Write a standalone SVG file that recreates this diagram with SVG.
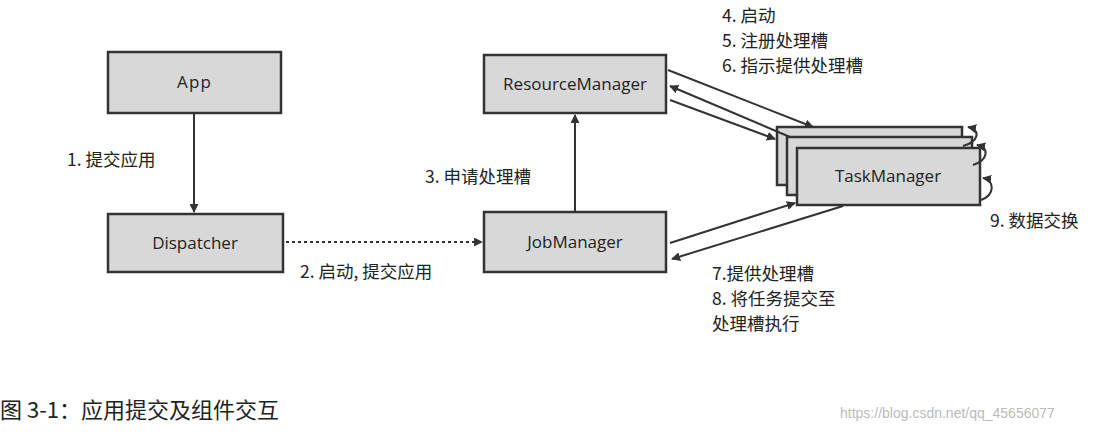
<svg xmlns="http://www.w3.org/2000/svg" width="1108" height="435" viewBox="0 0 1108 435">
<style>
.box{fill:#d8d8d8;stroke:#333;stroke-width:2.5}
.n{font-family:"Open Sans","DejaVu Sans",sans-serif;font-size:17px;fill:#222;text-anchor:middle}
.l{font-family:"Noto Sans CJK SC",sans-serif;font-size:17.5px;fill:#222}
.c{stroke:#333;stroke-width:2;fill:none}
</style>
<defs><marker id="a" viewBox="0 0 10 10" refX="9" refY="5" markerWidth="9" markerHeight="9" orient="auto-start-reverse" markerUnits="userSpaceOnUse"><path d="M0,0 L10,5 L0,10 z" fill="#333"/></marker></defs>
<rect width="1108" height="435" fill="#fff"/>
<g id="app"><rect class="box" x="108" y="52" width="173" height="61"/><text class="n" x="194" y="88" textLength="34">App</text></g>
<g id="dispatcher"><rect class="box" x="108" y="214" width="175" height="58"/><text class="n" x="195" y="249">Dispatcher</text></g>
<g id="resourcemanager"><rect class="box" x="484" y="55" width="182" height="58"/><text class="n" x="575" y="90">ResourceManager</text></g>
<g id="jobmanager"><rect class="box" x="484" y="212" width="182" height="60"/><text class="n" x="575" y="248">JobManager</text></g>
<g id="taskmanager">
<rect class="box" x="777" y="127" width="185" height="58"/>
<rect class="box" x="787" y="137" width="185" height="58"/>
<rect class="box" x="797" y="148" width="183" height="57"/>
<text class="n" x="888" y="182">TaskManager</text>
</g>
<g id="connectors">
<line class="c" x1="194" y1="114" x2="194" y2="212" marker-end="url(#a)"/>
<line class="c" x1="286" y1="242" x2="482" y2="242" stroke-dasharray="3,3" marker-end="url(#a)"/>
<line class="c" x1="575" y1="211" x2="575" y2="115" marker-end="url(#a)"/>
<line class="c" x1="668" y1="70" x2="813" y2="127" marker-end="url(#a)"/>
<line class="c" x1="790" y1="137" x2="670" y2="86" marker-end="url(#a)"/>
<line class="c" x1="670" y1="100" x2="775" y2="139" marker-end="url(#a)"/>
<line class="c" x1="670" y1="243" x2="795" y2="203" marker-end="url(#a)"/>
<line class="c" x1="843" y1="206" x2="672" y2="259" marker-end="url(#a)"/>
<path class="c" d="M963,146 C978,142 982,130 968,127" marker-end="url(#a)"/>
<path class="c" d="M973,165 C988,160 990,148 977,145" marker-end="url(#a)"/>
<path class="c" d="M981,200 C995,195 995,180 983,178" marker-end="url(#a)"/>
</g>
<g id="labels">
<text class="l" x="67" y="166">1. 提交应用</text>
<text class="l" x="300" y="278">2. 启动, 提交应用</text>
<text class="l" x="425" y="183">3. 申请处理槽</text>
<text class="l" x="722" y="22">4. 启动</text>
<text class="l" x="722" y="47">5. 注册处理槽</text>
<text class="l" x="722" y="72">6. 指示提供处理槽</text>
<text class="l" x="712" y="280">7.提供处理槽</text>
<text class="l" x="712" y="305">8. 将任务提交至</text>
<text class="l" x="712" y="330">处理槽执行</text>
<text class="l" x="990" y="227">9. 数据交换</text>
</g>
<text x="0" y="418" font-family="Noto Sans CJK SC,sans-serif" font-size="22" fill="#222">图 3-1：应用提交及组件交互</text>
<text x="840" y="418" font-family="Liberation Sans,sans-serif" font-size="14" fill="#bbb">https://blog.csdn.net/qq_45656077</text>
</svg>
